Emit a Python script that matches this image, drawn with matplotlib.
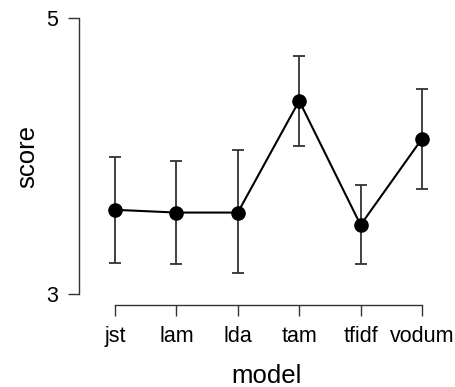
import matplotlib.pyplot as plt
import numpy as np

plt.rcParams['font.family'] = ['Liberation Sans', 'DejaVu Sans']

models = ['jst', 'lam', 'lda', 'tam', 'tfidf', 'vodum']
score = [3.61, 3.59, 3.59, 4.40, 3.50, 4.125]
upper = [3.996, 3.962, 4.042, 4.724, 3.788, 4.489]
lower = [3.228, 3.218, 3.150, 4.076, 3.220, 3.761]

x = np.arange(1, len(models) + 1)
score = np.array(score)
yerr = [score - np.array(lower), np.array(upper) - score]

fig = plt.figure(figsize=(4.55, 3.87), dpi=100)
ax = fig.add_axes([79/455, (387-305)/387, (455-79)/455, (305-7)/387])

ax.errorbar(x, score, yerr=yerr, fmt='none', ecolor='#333333',
            elinewidth=1.3, capsize=4.5, capthick=1.3)
ax.plot(x, score, color='black', linewidth=1.5, marker='o',
        markersize=9.5, markerfacecolor='black', markeredgecolor='black')

ax.set_xlim(1 - 36/61.4, 6 + 33/61.4)
ax.set_ylim(2.92, 5.08)

ax.spines['top'].set_visible(False)
ax.spines['right'].set_visible(False)
ax.spines['left'].set_bounds(3, 5)
ax.spines['bottom'].set_bounds(1, 6)
for s in ['left', 'bottom']:
    ax.spines[s].set_color('#333333')
    ax.spines[s].set_linewidth(1.0)

ax.set_xticks(x)
ax.set_xticklabels(models)
ax.set_yticks([3, 5])
ax.set_yticklabels(['3', '5'])
ax.tick_params(axis='both', direction='out', length=8.2, width=1.0,
               color='#333333', labelsize=15.5)
ax.tick_params(axis='x', pad=7)
ax.tick_params(axis='y', pad=7)

ax.set_xlabel('model', fontsize=18.5, labelpad=12)
ax.set_ylabel('score', fontsize=18.5, labelpad=5)

fig.savefig('out.png', dpi=100)
